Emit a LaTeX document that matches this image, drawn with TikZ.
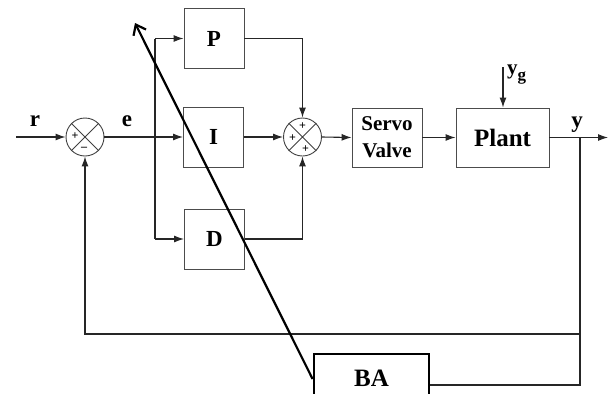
\documentclass[tikz,border=0pt]{standalone}
\usepackage{fontspec}
\setmainfont{Liberation Serif}
\usetikzlibrary{arrows.meta,calc}
\begin{document}
\begin{tikzpicture}[x=1pt,y=-1pt,
 blk/.style={draw=black!70, line width=0.9pt, minimum width=60pt, minimum height=60pt, font=\bfseries\fontsize{23}{24}\selectfont, inner sep=0pt},
 sumc/.style={draw=black!75, line width=0.9pt, circle, minimum size=38pt, inner sep=0pt},
 sgn/.style={font=\bfseries\fontsize{12}{12}\selectfont, inner sep=0pt},
 conn/.style={line width=1.1pt, draw=black!85},
 arr/.style={conn, -{Latex[length=10pt,width=7pt]}},
 lbl/.style={font=\bfseries\fontsize{23}{24}\selectfont, inner sep=0pt}]
\useasboundingbox (0,0) rectangle (614,394);
% summing junctions
\node[sumc] (s1) at (85,137) {};
\draw[black!75, line width=0.9pt] (s1.north west) -- (s1.south east) (s1.north east) -- (s1.south west);
\node[sgn] at ($(s1)+(-10,-1)$) {+};
\node[sgn] at ($(s1)+(-1,12)$) {--};
\node[sumc] (s2) at (302.5,137) {};
\draw[black!75, line width=0.9pt] (s2.north west) -- (s2.south east) (s2.north east) -- (s2.south west);
\node[sgn] at ($(s2)+(0,-11)$) {+};
\node[sgn] at ($(s2)+(-10,1)$) {+};
\node[sgn] at ($(s2)+(3,12)$) {+};
% blocks
\node[blk] (P) at (214,38.5) {P};
\node[blk] (I) at (213.5,137) {I};
\node[blk] (D) at (214.5,239) {D};
\node[blk, minimum width=70pt, minimum height=59pt, align=center, font=\bfseries\fontsize{21}{27}\selectfont] (SV) at (387,137.5) {Servo\\Valve};
\node[blk, minimum width=93pt, minimum height=59pt, font=\bfseries\fontsize{25}{27}\selectfont] (Plant) at (502.5,137.5) {Plant};
\node[draw=black, line width=2.8pt, minimum width=115pt, minimum height=62pt, inner sep=0pt] (BA) at (371.5,385) {};
\node[inner sep=0pt, anchor=base, font=\bfseries\fontsize{25}{27}\selectfont] (BAtext) at (371.5,386) {BA};
% labels
\node[lbl] at (35,121) {r};
\node[lbl] at (127,121) {e};
\node[lbl, anchor=base] at (577,127.5) {y};
\node[lbl, anchor=base, font=\bfseries\fontsize{21}{24}\selectfont] at (516.5,74) {y\raisebox{-0.3em}{\fontsize{17}{17}\selectfont g}};
% connectors
\coordinate (rin) at (16,137);
\draw[arr] (rin) -- (s1.west);
\coordinate (br) at (155,137);
\draw[arr] (s1.east) -- (I.west);
\draw[conn] (P.west -| br) -- (D.west -| br);
\draw[arr] (P.west -| br) -- (P.west);
\draw[arr] (D.west -| br) -- (D.west);
\draw[arr] (P.east) -| (s2.north);
\draw[arr] (I.east) -- (s2.west);
\draw[arr] (D.east) -| (s2.south);
\draw[arr] (s2.east) -- (SV.west);
\draw[arr] (SV.east) -- (Plant.west);
\coordinate (yg) at (503,67);
\draw[arr] (yg) -- (yg |- Plant.north);
\coordinate (yout) at (608,137.5);
\draw[arr] (Plant.east) -- (yout);
\coordinate (fb) at (580,137.5);
\coordinate (fbd) at (580,334);
\draw[conn] (fb) -- (BA.east -| fb) -- (BA.east);
\draw[arr] (fbd) -| (s1.south);
% adjustment arrow
\coordinate (tip) at (135,23);
\draw[line width=2.2pt, -{Straight Barb[length=9pt,width=14pt]}] ([yshift=6pt]BA.west) -- (tip);
\end{tikzpicture}
\end{document}
